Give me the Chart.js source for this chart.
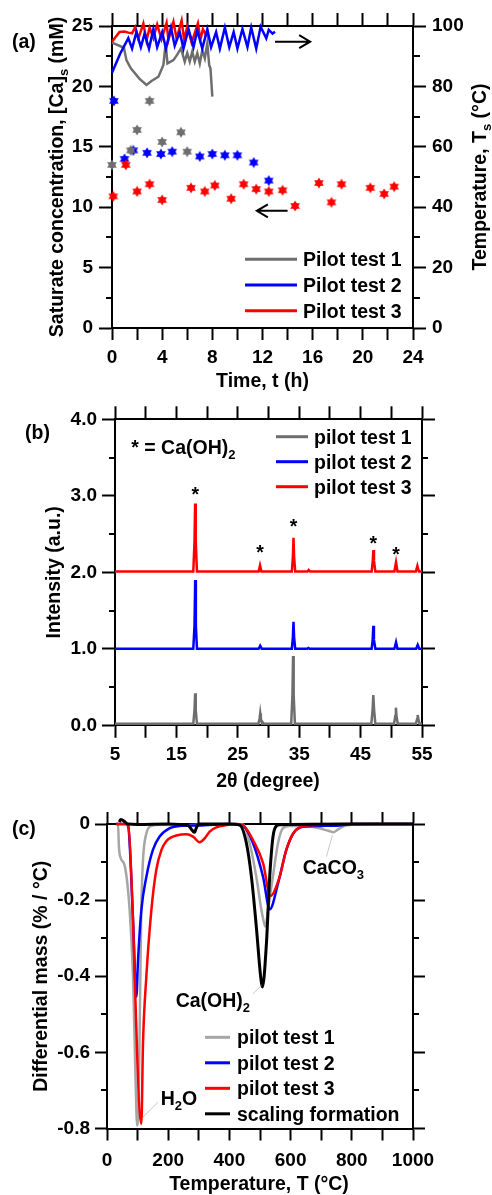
<!DOCTYPE html>
<html>
<head>
<meta charset="utf-8">
<script src="https://cdn.jsdelivr.net/npm/chart.js@4/dist/chart.umd.min.js"></script>
<style>
  body { margin: 0; background: #fff; width: 492px; height: 1195px; position: relative; overflow: hidden; }
  canvas { position: absolute; left: 0; top: 0; }
</style>
</head>
<body>
<canvas id="ca" width="492" height="1195"></canvas>
<canvas id="cb" width="492" height="1195"></canvas>
<canvas id="cc" width="492" height="1195"></canvas>
<script>
// ---------- (a) saturate concentration (stars, left axis) ----------
const concT1 = [0, 1.5, 2, 3, 4, 5.5, 6];
const conc1  = [13.5, 14.7, 16.4, 18.8, 15.4, 16.2, 14.6];
const concT2 = [0.15, 1, 1.7, 2.8, 3.9, 4.8, 7, 8, 9, 10, 11.3, 12.5];
const conc2  = [18.8, 14.0, 14.7, 14.5, 14.4, 14.6, 14.2, 14.4, 14.3, 14.3, 13.7, 12.2];
const concT3 = [0.1, 1.1, 2, 3, 4, 6.3, 7.4, 8.2, 9.5, 10.5, 11.5, 12.5, 13.6, 14.6, 16.5, 17.5, 18.3, 20.6, 21.7, 22.5];
const conc3  = [10.9, 13.5, 11.3, 11.9, 10.6, 11.6, 11.3, 11.8, 10.7, 11.9, 11.5, 11.3, 11.4, 10.1, 12.0, 10.4, 11.9, 11.6, 11.1, 11.7];

// ---------- (a) temperature (lines, right axis) ----------
const tempT1 = [0, 0.95, 1.15, 1.5, 2.2, 2.75, 3.15, 3.7, 4.1, 4.28, 4.42, 4.9, 5.2, 5.5, 5.8, 6.0, 6.2, 6.4, 6.6, 6.8, 7.0, 7.2, 7.4, 7.6, 7.75, 7.85, 8.0];
const temp1  = [94.5, 92.8, 88.7, 86.0, 82.5, 80.5, 81.8, 83.2, 87.1, 94.3, 87.6, 88.7, 90.5, 92.6, 88.2, 91.0, 88.2, 91.5, 88.2, 91.0, 87.6, 92.0, 89.3, 94.3, 87.0, 86.0, 76.6];
const tempT2 = [0, 0.65, 1.3, 1.6, 1.95, 2.3, 2.6, 2.95, 3.3, 3.6, 4.0, 4.3, 4.7, 5.0, 5.4, 5.7, 6.1, 6.5, 6.8, 7.2, 7.6, 7.9, 8.3, 8.6, 9.0, 9.35, 9.7, 10.0, 10.4, 10.8, 11.1, 11.5, 11.85, 12.3, 12.5, 12.8, 13.0];
const temp2  = [84.5, 90.8, 96.0, 92.5, 98.0, 93.0, 97.5, 92.5, 99.0, 93.0, 98.0, 92.5, 99.5, 93.5, 98.0, 92.5, 99.0, 93.0, 98.5, 92.5, 99.0, 93.0, 98.0, 92.5, 99.5, 93.0, 98.0, 92.5, 99.0, 93.0, 99.5, 92.5, 99.8, 95.9, 98.7, 97.5, 98.1];
const tempT3 = [0, 0.6, 1.0, 1.3, 1.6, 1.85, 2.1, 2.5, 2.75, 3.0, 3.3, 3.6, 3.95, 4.35, 4.5, 4.9, 5.15, 5.55, 5.75, 6.0, 6.35, 6.85, 7.05, 7.25, 7.55];
const temp3  = [94.8, 98.0, 98.2, 97.8, 97.6, 99.6, 95.8, 100.8, 95.2, 99.5, 96.0, 100.5, 95.6, 101.0, 95.4, 101.4, 95.8, 101.8, 95.4, 99.8, 94.5, 100.9, 95.5, 99.0, 96.5];

// ---------- (b) XRD patterns ----------
const tt3  = [5, 17.75, 17.95, 18.05, 18.15, 18.35, 28.4, 28.62, 28.85, 33.8, 33.97, 34.07, 34.17, 34.35, 36.35, 36.55, 36.75, 46.8, 46.98, 47.08, 47.18, 47.4, 50.5, 50.77, 51.0, 54.0, 54.25, 54.5, 55];
const xrd3 = [2.01, 2.01, 2.4, 2.9, 2.4, 2.01, 2.01, 2.09, 2.01, 2.01, 2.2, 2.45, 2.2, 2.01, 2.01, 2.03, 2.01, 2.01, 2.15, 2.29, 2.15, 2.01, 2.01, 2.13, 2.01, 2.01, 2.085, 2.01, 2.01];
const tt2  = [5, 17.75, 17.95, 18.06, 18.17, 18.35, 28.4, 28.65, 28.9, 33.8, 33.97, 34.07, 34.17, 34.35, 36.3, 36.5, 36.7, 46.8, 46.97, 47.07, 47.17, 47.4, 50.5, 50.77, 51.0, 54.05, 54.3, 54.55, 55];
const xrd2 = [1.0, 1.0, 1.3, 1.9, 1.3, 1.0, 1.0, 1.04, 1.0, 1.0, 1.15, 1.354, 1.15, 1.0, 1.0, 1.01, 1.0, 1.0, 1.12, 1.30, 1.12, 1.0, 1.0, 1.085, 1.0, 1.0, 1.05, 1.0, 1.0];
const tt1  = [5, 17.75, 17.95, 18.05, 18.15, 18.35, 28.35, 28.55, 28.65, 28.75, 28.95, 29.1, 29.25, 33.7, 33.9, 34.0, 34.1, 34.3, 46.75, 46.95, 47.07, 47.2, 47.4, 50.45, 50.65, 50.75, 50.85, 51.05, 54.0, 54.2, 54.3, 54.4, 54.6, 55];
const xrd1 = [0.02, 0.02, 0.2, 0.418, 0.2, 0.02, 0.02, 0.09, 0.157, 0.09, 0.02, 0.035, 0.02, 0.02, 0.4, 0.906, 0.4, 0.02, 0.02, 0.2, 0.396, 0.2, 0.02, 0.02, 0.12, 0.23, 0.12, 0.02, 0.02, 0.08, 0.135, 0.08, 0.02, 0.02];
const starPeaks = [18.07, 28.64, 34.06, 47.08, 50.77];
const starLevels = [3.07, 2.32, 2.66, 2.44, 2.29];

// ---------- (c) DTG curves ----------
const tgT1 = [30, 36, 39, 45, 58, 74, 85, 90.5, 96, 98, 100, 104.6, 109, 112, 117.6, 128.6, 145, 170, 250, 300, 400, 444, 466, 488, 504.6, 515, 518, 526, 542, 559, 575, 597, 650, 695, 715, 733, 740, 755, 777, 800, 900, 1000];
const tg1  = [0, 0, -0.06, -0.09, -0.11, -0.226, -0.40, -0.577, -0.753, -0.792, -0.785, -0.665, -0.40, -0.226, -0.095, -0.025, -0.005, -0.002, -0.003, -0.002, 0, -0.001, -0.05, -0.139, -0.226, -0.265, -0.27, -0.226, -0.139, -0.05, -0.011, -0.005, -0.006, -0.011, -0.016, -0.02, -0.022, -0.014, -0.005, -0.002, 0, 0];
const tgT2 = [30, 60, 69, 85, 96, 101.4, 112.3, 128.6, 150, 172, 205, 237, 300, 400, 444, 477, 510, 532, 559, 586, 613, 641, 700, 760, 800, 1000];
const tg2  = [0, 0, -0.005, -0.25, -0.454, -0.358, -0.226, -0.139, -0.068, -0.033, -0.011, -0.005, -0.004, 0, -0.005, -0.05, -0.139, -0.224, -0.156, -0.068, -0.02, -0.007, -0.005, -0.004, 0, 0];
const tgT3 = [30, 60, 69, 112.3, 117.6, 128.6, 145, 161, 178, 194, 210, 227, 259.5, 281, 303, 319, 335.6, 357.5, 390, 420, 444, 477, 510, 534, 564, 586, 608, 630, 673, 800, 1000];
const tg3  = [0, 0, -0.003, -0.788, -0.577, -0.40, -0.226, -0.121, -0.068, -0.045, -0.035, -0.03, -0.027, -0.033, -0.048, -0.038, -0.02, -0.009, -0.003, 0, -0.003, -0.042, -0.103, -0.189, -0.139, -0.068, -0.025, -0.009, -0.003, 0, 0];
const tgT4 = [40, 45, 55, 68.6, 100, 200, 265, 277, 286, 292, 300, 400, 433.7, 455.5, 472, 488, 502, 508, 521, 531.7, 542.5, 553.6, 564, 600, 800, 1000];
const tg4  = [0.005, 0.012, 0.008, 0, -0.001, 0, -0.004, -0.015, -0.022, -0.01, 0, 0, -0.003, -0.05, -0.139, -0.27, -0.40, -0.428, -0.314, -0.139, -0.033, -0.005, -0.002, -0.001, 0, 0];

// ---------- tick values ----------
const ticksTime = [0, 2, 4, 6, 8, 10, 12, 14, 16, 18, 20, 22, 24];
const ticksConc = [0, 5, 10, 15, 20, 25];
const minorConc = [2.5, 7.5, 12.5, 17.5, 22.5];
const ticksTemp = [0, 20, 40, 60, 80, 100];
const minorTemp = [10, 30, 50, 70, 90];
const ticksAngle = [5, 10, 15, 20, 25, 30, 35, 40, 45, 50, 55];
const ticksInt = [0, 1, 2, 3, 4];
const minorInt = [0.5, 1.5, 2.5, 3.5];
const ticksT = [0, 100, 200, 300, 400, 500, 600, 700, 800, 900, 1000];
const ticksDm = [-0.8, -0.6, -0.4, -0.2, 0];
const minorDm = [-0.7, -0.5, -0.3, -0.1];

const GRAY_A = '#6e6e6e', GRAY_C = '#a6a6a6', BLUE = '#0000ff', RED = '#ff0000', BLACK = '#000000';
const FAM = "'Liberation Sans', Arial, sans-serif";
const TICKFONT = { family: FAM, size: 19, weight: 'bold' };
const BIG = 'bold 19.5px ' + FAM;
const SMALL = 'bold 13px ' + FAM;

function pts(xs, ys) { return xs.map((x, i) => ({ x: x, y: ys[i] })); }

// filled six-point star used as marker
function starImg(color) {
  const c = document.createElement('canvas');
  c.width = 12; c.height = 12;
  const g = c.getContext('2d');
  g.fillStyle = color;
  const r = 5.6;
  [-90, 90].forEach(a0 => {
    g.beginPath();
    for (let k = 0; k < 3; k++) {
      const a = (a0 + k * 120) * Math.PI / 180;
      const px = 6 + r * Math.cos(a), py = 6 + r * Math.sin(a);
      if (k === 0) g.moveTo(px, py); else g.lineTo(px, py);
    }
    g.closePath();
    g.fill();
  });
  return c;
}

function axis(o) {
  return {
    type: 'linear', position: o.pos, min: o.min, max: o.max,
    afterBuildTicks: s => { s.ticks = o.ticks.map(v => ({ value: v })); },
    afterFit: s => { if (s.isHorizontal()) s.height = o.size; else s.width = o.size; },
    ticks: { display: !!o.fmt, callback: v => (o.fmt ? o.fmt(v) : ''), font: TICKFONT, color: '#000', padding: o.pad || 5, maxRotation: 0, autoSkip: false },
    grid: { display: true, drawOnChartArea: false, drawTicks: true, tickLength: o.tl, tickWidth: 2, tickColor: '#000' },
    border: { display: true, color: '#000', width: 2 }
  };
}

// text with subscripts: parts starting with '_' are subscripts; y is the vertical centre of the caps
function rich(ctx, parts, x, y, align) {
  let w = 0;
  parts.forEach(p => {
    const sub = p[0] === '_';
    ctx.font = sub ? SMALL : BIG;
    w += ctx.measureText(sub ? p.slice(1) : p).width;
  });
  let cx = align === 'center' ? x - w / 2 : x;
  ctx.textAlign = 'left';
  ctx.textBaseline = 'alphabetic';
  ctx.fillStyle = '#000';
  parts.forEach(p => {
    const sub = p[0] === '_';
    const t = sub ? p.slice(1) : p;
    ctx.font = sub ? SMALL : BIG;
    ctx.fillText(t, cx, y + 7 + (sub ? 5 : 0));
    cx += ctx.measureText(t).width;
  });
}

function vrich(ctx, parts, x, y) {
  ctx.save();
  ctx.translate(x, y);
  ctx.rotate(-Math.PI / 2);
  rich(ctx, parts, 0, 0, 'center');
  ctx.restore();
}

// tick marks drawn outward from an axis (minor ones are shorter)
function tickMarks(chart, id, vals, len) {
  const s = chart.scales[id], ctx = chart.ctx;
  const a = chart.chartArea;
  ctx.fillStyle = '#000';
  vals.forEach(v => {
    const p = Math.round(s.getPixelForValue(v));
    if (id === 'y') ctx.fillRect(a.left - len, p - 1, len + 1, 2);
    else if (id === 'y2') ctx.fillRect(a.right - 1, p - 1, len + 1, 2);
    else if (id === 'x2') ctx.fillRect(p - 1, a.top - len, 2, len + 1);
    else ctx.fillRect(p - 1, a.bottom - 1, 2, len + 1);
  });
}

function legend(ctx, items, x1, x2, tx, y0, dy) {
  items.forEach((it, i) => {
    const y = y0 + i * dy;
    ctx.strokeStyle = it[1];
    ctx.lineWidth = 3;
    ctx.beginPath(); ctx.moveTo(x1, y); ctx.lineTo(x2, y); ctx.stroke();
    rich(ctx, [it[0]], tx, y, 'left');
  });
}

function arrow(ctx, x1, y, x2) {
  const d = x2 > x1 ? 1 : -1;
  ctx.strokeStyle = '#000';
  ctx.lineWidth = 2;
  ctx.beginPath();
  ctx.moveTo(x1, y); ctx.lineTo(x2, y);
  ctx.moveTo(x2 - d * 11, y - 6.5); ctx.lineTo(x2, y); ctx.lineTo(x2 - d * 11, y + 6.5);
  ctx.stroke();
}

function leader(ctx, x1, y1, x2, y2) {
  ctx.strokeStyle = '#c8c8c8';
  ctx.lineWidth = 1;
  ctx.beginPath(); ctx.moveTo(x1, y1); ctx.lineTo(x2, y2); ctx.stroke();
}

function decor(draw) {
  return { id: 'decor', afterDraw: chart => { const ctx = chart.ctx; ctx.save(); draw(chart, ctx); ctx.restore(); } };
}

function baseOpts(top, bottom, scales) {
  return {
    responsive: false, animation: false, events: [],
    layout: { padding: { top: top, bottom: bottom, left: 0, right: 0 } },
    plugins: { legend: { display: false }, tooltip: { enabled: false } },
    scales: scales
  };
}

function lineSet(label, xs, ys, color, yId, order, w) {
  return { label: label, data: pts(xs, ys), yAxisID: yId, showLine: true, borderColor: color, backgroundColor: color,
           borderWidth: w || 2.5, pointRadius: 0, tension: 0, clip: false, order: order };
}

function starSet(xs, ys, color) {
  return { data: pts(xs, ys), yAxisID: 'y', showLine: false, pointStyle: starImg(color), pointRadius: 6, clip: false, order: 0 };
}

// ---------- panel (a) ----------
new Chart(document.getElementById('ca'), {
  type: 'scatter',
  data: { datasets: [
    starSet(concT3, conc3, RED),
    starSet(concT1, conc1, GRAY_A),
    starSet(concT2, conc2, BLUE),
    lineSet('Pilot test 2', tempT2, temp2, BLUE, 'y2', 1),
    lineSet('Pilot test 3', tempT3, temp3, RED, 'y2', 2),
    lineSet('Pilot test 1', tempT1, temp1, GRAY_A, 'y2', 3)
  ] },
  options: baseOpts(0, 803, {
    x: axis({ pos: 'bottom', min: 0, max: 24, ticks: ticksTime, fmt: v => (v % 4 === 0 ? String(v) : ''), size: 64, tl: 12, pad: 6 }),
    x2: axis({ pos: 'top', min: 0, max: 24, ticks: ticksTime, size: 26, tl: 13 }),
    y: axis({ pos: 'left', min: 0, max: 25, ticks: ticksConc, fmt: v => String(v), size: 112, tl: 13, pad: 6 }),
    y2: axis({ pos: 'right', min: 0, max: 100, ticks: ticksTemp, fmt: v => String(v), size: 79, tl: 13, pad: 6 })
  }),
  plugins: [decor((chart, ctx) => {
    const sx = chart.scales.x, sy = chart.scales.y, sy2 = chart.scales.y2, a = chart.chartArea;
    tickMarks(chart, 'y', minorConc, 6);
    tickMarks(chart, 'y2', minorTemp, 7);
    rich(ctx, ['(a)'], 12, 41, 'left');
    rich(ctx, ['Time, t (h)'], (a.left + a.right) / 2, 380, 'center');
    vrich(ctx, ['Saturate concentration, [Ca]', '_s', ' (mM)'], 56, (a.top + a.bottom) / 2);
    vrich(ctx, ['Temperature, T', '_s', ' (°C)'], 479, (a.top + a.bottom) / 2);
    legend(ctx, [['Pilot test 1', GRAY_A], ['Pilot test 2', BLUE], ['Pilot test 3', RED]], 245, 297, 303, 259.3, 25.7);
    arrow(ctx, sx.getPixelForValue(13.0), sy2.getPixelForValue(94.8), sx.getPixelForValue(15.8));
    arrow(ctx, sx.getPixelForValue(14.0), sy.getPixelForValue(9.7), sx.getPixelForValue(11.55));
  })]
});

// ---------- panel (b) ----------
new Chart(document.getElementById('cb'), {
  type: 'scatter',
  data: { datasets: [
    lineSet('pilot test 1', tt1, xrd1, GRAY_A, 'y', 3),
    lineSet('pilot test 2', tt2, xrd2, BLUE, 'y', 2),
    lineSet('pilot test 3', tt3, xrd3, RED, 'y', 1)
  ] },
  options: baseOpts(392, 410, {
    x: axis({ pos: 'bottom', min: 5, max: 55, ticks: ticksAngle, fmt: v => ((v - 5) % 10 === 0 ? String(v) : ''), size: 59.7, tl: 12.5, pad: 6 }),
    x2: axis({ pos: 'top', min: 5, max: 55, ticks: ticksAngle, size: 27.3, tl: 13 }),
    y: axis({ pos: 'left', min: 0, max: 4, ticks: ticksInt, fmt: v => v.toFixed(1), size: 115, tl: 13, pad: 5 }),
    y2: axis({ pos: 'right', min: 0, max: 4, ticks: ticksInt, size: 70, tl: 13 })
  }),
  plugins: [decor((chart, ctx) => {
    const sx = chart.scales.x, sy = chart.scales.y, a = chart.chartArea;
    tickMarks(chart, 'y', minorInt, 6);
    tickMarks(chart, 'y2', minorInt, 6);
    rich(ctx, ['(b)'], 25, 431.7, 'left');
    rich(ctx, ['2θ (degree)'], 268, 780, 'center');
    vrich(ctx, ['Intensity (a.u.)'], 53, (a.top + a.bottom) / 2);
    rich(ctx, ['* = Ca(OH)', '_2'], sx.getPixelForValue(7.65), sy.getPixelForValue(3.64), 'left');
    legend(ctx, [['pilot test 1', GRAY_A], ['pilot test 2', BLUE], ['pilot test 3', RED]], 276, 308, 314, 436.7, 25);
    ctx.font = BIG; ctx.fillStyle = '#000'; ctx.textAlign = 'center'; ctx.textBaseline = 'alphabetic';
    starPeaks.forEach((p, i) => {
      ctx.fillText('*', sx.getPixelForValue(p), sy.getPixelForValue(starLevels[i]) + 11);
    });
  })]
});

// ---------- panel (c) ----------
new Chart(document.getElementById('cc'), {
  type: 'scatter',
  data: { datasets: [
    Object.assign(lineSet('pilot test 1', tgT1, tg1, GRAY_C, 'y', 3), { cubicInterpolationMode: 'monotone' }),
    Object.assign(lineSet('pilot test 2', tgT2, tg2, BLUE, 'y', 2), { cubicInterpolationMode: 'monotone' }),
    Object.assign(lineSet('pilot test 3', tgT3, tg3, RED, 'y', 1), { cubicInterpolationMode: 'monotone' }),
    Object.assign(lineSet('scaling formation', tgT4, tg4, BLACK, 'y', 0, 3), { cubicInterpolationMode: 'monotone' })
  ] },
  options: baseOpts(785, 0, {
    x: axis({ pos: 'bottom', min: 0, max: 1000, ticks: ticksT, fmt: v => (v % 200 === 0 ? String(v) : ''), size: 66.5, tl: 12, pad: 9 }),
    x2: axis({ pos: 'top', min: 0, max: 1000, ticks: ticksT, size: 39, tl: 12 }),
    y: axis({ pos: 'left', min: -0.8, max: 0, ticks: ticksDm, fmt: v => (v === 0 ? '0' : v.toFixed(1)), size: 107, tl: 12, pad: 5 }),
    y2: axis({ pos: 'right', min: -0.8, max: 0, ticks: ticksDm, size: 79, tl: 12 })
  }),
  plugins: [decor((chart, ctx) => {
    const sx = chart.scales.x, sy = chart.scales.y, a = chart.chartArea;
    const X = v => sx.getPixelForValue(v), Y = v => sy.getPixelForValue(v);
    tickMarks(chart, 'y', minorDm, 6);
    tickMarks(chart, 'y2', minorDm, 6);
    rich(ctx, ['(c)'], 12, 827.7, 'left');
    rich(ctx, ['Temperature, T (°C)'], 259, 1183, 'center');
    vrich(ctx, ['Differential mass (% / °C)'], 40, (a.top + a.bottom) / 2);
    leader(ctx, X(736.6), Y(-0.029), X(717), Y(-0.086));
    leader(ctx, X(477), Y(-0.446), X(504.6), Y(-0.424));
    leader(ctx, X(166.7), Y(-0.731), X(117.6), Y(-0.77));
    rich(ctx, ['CaCO', '_3'], X(639.5), Y(-0.112), 'left');
    rich(ctx, ['Ca(OH)', '_2'], X(224.5), Y(-0.463), 'left');
    rich(ctx, ['H', '_2', 'O'], X(175.5), Y(-0.721), 'left');
    legend(ctx, [['pilot test 1', GRAY_C], ['pilot test 2', BLUE], ['pilot test 3', RED], ['scaling formation', BLACK]], 205, 230, 237, 1037.3, 25.5);
  })]
});
</script>
</body>
</html>
